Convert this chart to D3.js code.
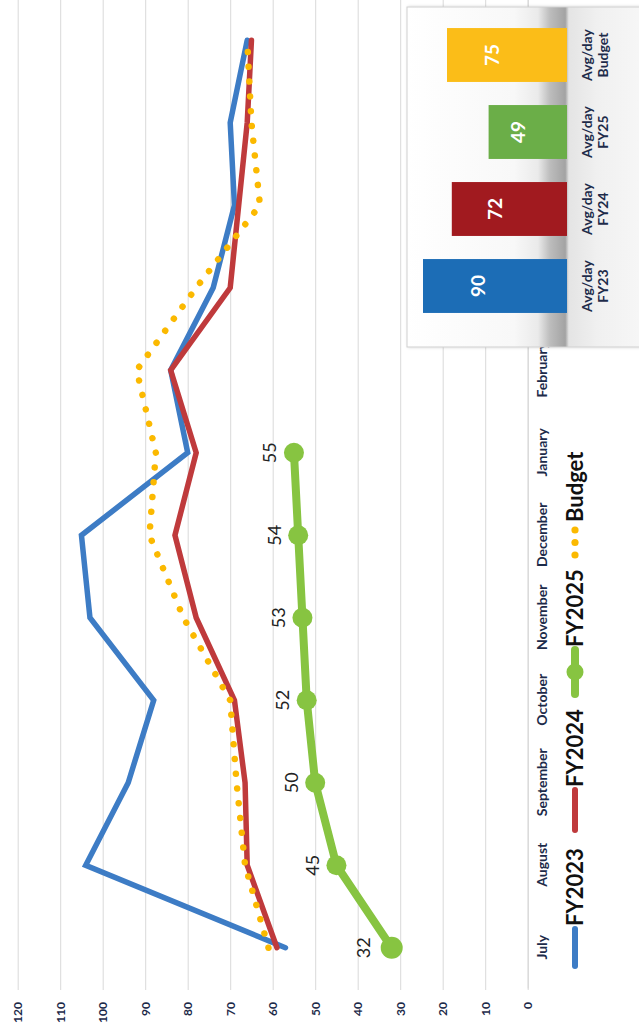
<!DOCTYPE html>
<html>
<head>
<meta charset="utf-8">
<script src="https://cdn.jsdelivr.net/npm/d3@7"></script>
<style>
  html, body { margin: 0; padding: 0; background: #ffffff; }
  svg { display: block; }
  text { font-family: Lato, "Open Sans", sans-serif; }
</style>
</head>
<body>
<svg id="chart" width="639" height="1032"></svg>
<script>
// ---- data ----
const months = ["July", "August", "September", "October", "November", "December",
                "January", "February", "March", "April", "May", "June"];
const fy2023 = [57, 104, 94, 88, 103, 105, 80, 84, 74, 69, 70, 66];
const fy2024 = [59, 66, 66.5, 69, 78, 83, 78, 84, 70, 68, 66, 65];
const fy2025 = [32, 45, 50, 52, 53, 54, 55];
const budget = [61, 66.5, 68.5, 70, 81, 89, 87.5, 92, 78, 63, 65, 66];
const valueTicks = [0, 10, 20, 30, 40, 50, 60, 70, 80, 90, 100, 110, 120];

const avgCategories = ["FY23", "FY24", "FY25", "Budget"];
const avgValues = [90, 72, 49, 75];

const seriesNames = ["FY2023", "FY2024", "FY2025", "Budget"];

// ---- colours ----
const C = {
  fy2023: "#3d7cc5",
  fy2024: "#bf3a3c",
  fy2025: "#87c441",
  budget: "#fbb900",
  grid: "#d9d9d9",
  axisText: "#1d2b4a"
};
const barColors = ["#1c6db6", "#a11a1f", "#6bae48", "#fbbd18"];

const W = 639, H = 1032;
const svg = d3.select("#chart");

// The whole chart is laid out landscape (months run left to right, values upward)
// and then turned a quarter turn counter-clockwise onto the portrait page.
const g = svg.append("g").attr("transform", `translate(0,${H}) rotate(-90)`);

const x = d3.scalePoint().domain(months).range([43, 1033]).padding(0.5);
const y = d3.scaleLinear().domain([0, 120]).range([527.7, 17.7]);

// value axis with gridlines
const yAxis = g.append("g")
  .attr("transform", "translate(42,0)")
  .call(d3.axisLeft(y).tickValues(valueTicks).tickSize(-1000).tickPadding(12));
yAxis.select(".domain").remove();
yAxis.selectAll(".tick line").attr("stroke", C.grid).attr("stroke-width", 1);
yAxis.selectAll(".tick text")
  .attr("fill", C.axisText)
  .style("font-size", "12px")
  .style("font-weight", "700");

// month axis
const xAxis = g.append("g")
  .attr("transform", `translate(0,${y(0)})`)
  .call(d3.axisBottom(x).tickSize(0).tickPadding(9));
xAxis.select(".domain").attr("stroke", C.grid).attr("stroke-width", 1.2);
xAxis.selectAll(".tick text")
  .attr("fill", C.axisText)
  .style("font-size", "14px")
  .style("font-weight", "700");

// ---- series ----
const line = d3.line()
  .x((d, i) => x(months[i]))
  .y(d => y(d));

const plot = g.append("g");

plot.append("path").datum(fy2023)
  .attr("d", line).attr("fill", "none")
  .attr("stroke", C.fy2023).attr("stroke-width", 5.5)
  .attr("stroke-linejoin", "miter").attr("stroke-linecap", "round");

plot.append("path").datum(fy2024)
  .attr("d", line).attr("fill", "none")
  .attr("stroke", C.fy2024).attr("stroke-width", 5.5)
  .attr("stroke-linejoin", "miter").attr("stroke-linecap", "round");

plot.append("path").datum(fy2025)
  .attr("d", line).attr("fill", "none")
  .attr("stroke", C.fy2025).attr("stroke-width", 8)
  .attr("stroke-linejoin", "round").attr("stroke-linecap", "round");

plot.selectAll("circle.fy25").data(fy2025).join("circle")
  .attr("class", "fy25")
  .attr("cx", (d, i) => x(months[i]))
  .attr("cy", d => y(d))
  .attr("r", (d, i) => i === 0 ? 11 : 10)
  .attr("fill", C.fy2025);

plot.selectAll("text.fy25").data(fy2025).join("text")
  .attr("class", "fy25")
  .attr("x", (d, i) => x(months[i]))
  .attr("y", (d, i) => y(d) - (i === 0 ? 28 : 24))
  .attr("dy", "0.35em")
  .attr("text-anchor", "middle")
  .attr("fill", "#222")
  .style("font-size", "18px")
  .text(d => d);

plot.append("path").datum(budget)
  .attr("d", line).attr("fill", "none")
  .attr("stroke", C.budget).attr("stroke-width", 6.5)
  .attr("stroke-linecap", "round")
  .attr("stroke-dasharray", "0.01 14.8");

// ---- legend ----
const legend = g.append("g").attr("transform", "translate(0,575)");
const legendItems = [
  { name: seriesNames[0], x0: 66, x1: 103, color: C.fy2023 },
  { name: seriesNames[1], x0: 202, x1: 242, color: C.fy2024 },
  { name: seriesNames[2], x0: 338, x1: 382, color: C.fy2025, marker: true },
  { name: seriesNames[3], x0: 477, x1: 503, color: C.budget, dotted: true }
];
legendItems.forEach(it => {
  if (it.dotted) {
    [0, 1, 2].forEach(k => {
      legend.append("circle")
        .attr("cx", it.x0 + k * 12.5).attr("cy", 0).attr("r", 3.6)
        .attr("fill", it.color);
    });
  } else {
    legend.append("line")
      .attr("x1", it.x0).attr("x2", it.x1).attr("y1", 0).attr("y2", 0)
      .attr("stroke", it.color)
      .attr("stroke-width", it.marker ? 8 : 6)
      .attr("stroke-linecap", "round");
    if (it.marker) {
      legend.append("circle")
        .attr("cx", (it.x0 + it.x1) / 2).attr("cy", 0).attr("r", 8.5)
        .attr("fill", it.color);
    }
  }
  legend.append("text")
    .attr("x", it.x1 + (it.dotted ? 7 : 3)).attr("y", 0).attr("dy", "0.36em")
    .attr("fill", "#111")
    .style("font-size", "22px")
    .style("font-weight", "700")
    .text(it.name);
});

// ---- inset: average per day ----
const defs = svg.append("defs");
const grad = defs.append("linearGradient")
  .attr("id", "insetBg")
  .attr("gradientUnits", "userSpaceOnUse")
  .attr("x1", 0).attr("y1", 407).attr("x2", 0).attr("y2", 645);
[[0, "#ffffff"], [0.45, "#f8f8f8"], [0.55, "#eaeaea"], [0.6, "#bdbdbd"],
 [0.665, "#a3a3a3"], [0.68, "#e4e4e4"], [0.8, "#f0f0f0"], [1, "#f7f7f7"]]
  .forEach(([o, c]) => grad.append("stop").attr("offset", o).attr("stop-color", c));

const shadow = defs.append("filter").attr("id", "boxShadow")
  .attr("x", "-10%").attr("y", "-10%").attr("width", "130%").attr("height", "130%");
shadow.append("feDropShadow")
  .attr("dx", 0).attr("dy", 1.5).attr("stdDeviation", 1.5)
  .attr("flood-color", "#000").attr("flood-opacity", 0.18);

const inset = g.append("g");
inset.append("rect")
  .attr("x", 685).attr("y", 407).attr("width", 340).attr("height", 245)
  .attr("fill", "url(#insetBg)")
  .attr("stroke", "#cfcfcf").attr("stroke-width", 1)
  .attr("filter", "url(#boxShadow)");

const bx = d3.scaleBand().domain(avgCategories)
  .range([707.5, 1015.5]).paddingInner(0.3).paddingOuter(0.15);
const by = d3.scaleLinear().domain([0, 100]).range([567, 407]);

inset.selectAll("rect.bar").data(avgValues).join("rect")
  .attr("class", "bar")
  .attr("x", (d, i) => bx(avgCategories[i]))
  .attr("width", bx.bandwidth())
  .attr("y", d => by(d))
  .attr("height", d => by(0) - by(d))
  .attr("fill", (d, i) => barColors[i]);

inset.selectAll("text.val").data(avgValues).join("text")
  .attr("class", "val")
  .attr("x", (d, i) => bx(avgCategories[i]) + bx.bandwidth() / 2)
  .attr("y", d => by(d * 0.62))
  .attr("dy", "0.36em")
  .attr("text-anchor", "middle")
  .attr("fill", "#ffffff")
  .style("font-size", "19px")
  .style("font-weight", "700")
  .text(d => d);

const catLabels = inset.selectAll("text.cat").data(avgCategories).join("text")
  .attr("class", "cat")
  .attr("text-anchor", "middle")
  .attr("fill", C.axisText)
  .style("font-size", "14px")
  .style("font-weight", "700");
catLabels.append("tspan")
  .attr("x", d => bx(d) + bx.bandwidth() / 2).attr("y", 587).attr("dy", "0.36em")
  .text("Avg/day");
catLabels.append("tspan")
  .attr("x", d => bx(d) + bx.bandwidth() / 2).attr("y", 603).attr("dy", "0.36em")
  .text(d => d);
</script>
</body>
</html>
